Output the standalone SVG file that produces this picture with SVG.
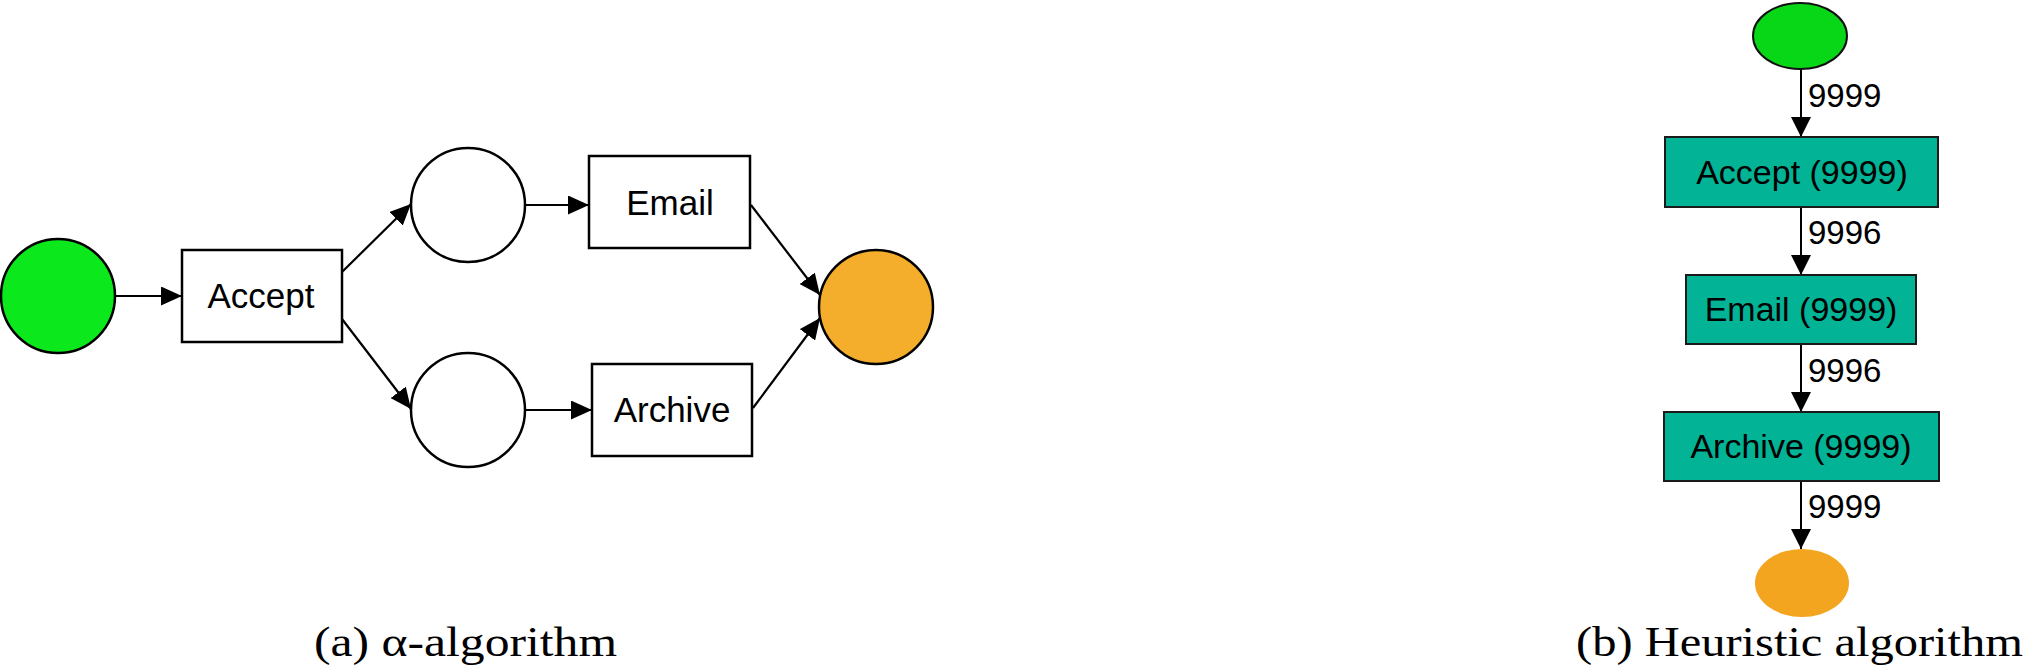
<svg xmlns="http://www.w3.org/2000/svg" width="2028" height="671" viewBox="0 0 2028 671">
<style>
.lbl{font-family:"Liberation Sans",Arial,sans-serif;font-size:35px;fill:#000;text-anchor:middle}
.rlbl{font-family:"Liberation Sans",Arial,sans-serif;font-size:34px;fill:#000;text-anchor:middle}
.elbl{font-family:"Liberation Sans",Arial,sans-serif;font-size:33px;fill:#000;text-anchor:start}
.cap{font-family:"Liberation Serif","Times New Roman",serif;font-size:42px;fill:#000}
.box{fill:#fff;stroke:#000;stroke-width:2.5}
.place{fill:#fff;stroke:#000;stroke-width:2.5}
.tbox{fill:#02B396;stroke:#1a1a1a;stroke-width:2}
.edge{stroke:#000;stroke-width:2.2;fill:none;marker-end:url(#arr)}
.edge2{stroke:#000;stroke-width:2;fill:none;marker-end:url(#arr2)}
</style>
<defs>
<marker id="arr" markerUnits="userSpaceOnUse" markerWidth="21" markerHeight="19" refX="21" refY="9.5" orient="auto"><path d="M0,0 L21,9.5 L0,19 z" fill="#000"/></marker>
<marker id="arr2" markerUnits="userSpaceOnUse" markerWidth="20" markerHeight="20" refX="20" refY="10" orient="auto"><path d="M0,0 L20,10 L0,20 z" fill="#000"/></marker>
</defs>
<rect width="2028" height="671" fill="#fff"/>

<g id="connectors">
<line class="edge" x1="115" y1="296" x2="182" y2="296"/>
<line class="edge" x1="342" y1="272" x2="411" y2="204"/>
<line class="edge" x1="342" y1="319" x2="411" y2="409"/>
<line class="edge" x1="525" y1="205" x2="589" y2="205"/>
<line class="edge" x1="525" y1="410" x2="592" y2="410"/>
<line class="edge" x1="751" y1="205" x2="820" y2="295"/>
<line class="edge" x1="753" y1="408" x2="820" y2="318"/>
<line class="edge2" x1="1801" y1="69" x2="1801" y2="137"/>
<line class="edge2" x1="1801" y1="207" x2="1801" y2="275"/>
<line class="edge2" x1="1801" y1="344" x2="1801" y2="412"/>
<line class="edge2" x1="1801" y1="481" x2="1801" y2="549"/>
<text class="elbl" x="1808" y="107">9999</text>
<text class="elbl" x="1808" y="244">9996</text>
<text class="elbl" x="1808" y="382">9996</text>
<text class="elbl" x="1808" y="518">9999</text>
</g>

<g id="a-start"><circle cx="58" cy="296" r="57" fill="#0BE81C" stroke="#000" stroke-width="2.5"/></g>
<g id="a-accept"><rect class="box" x="182" y="250" width="160" height="92"/><text class="lbl" x="261" y="308">Accept</text></g>
<g id="a-p1"><circle class="place" cx="468" cy="205" r="57"/></g>
<g id="a-p2"><circle class="place" cx="468" cy="410" r="57"/></g>
<g id="a-email"><rect class="box" x="589" y="156" width="161" height="92"/><text class="lbl" x="670" y="215">Email</text></g>
<g id="a-archive"><rect class="box" x="592" y="364" width="160" height="92"/><text class="lbl" x="672" y="422">Archive</text></g>
<g id="a-end"><circle cx="876" cy="307" r="57" fill="#F5AD2C" stroke="#000" stroke-width="2.5"/></g>

<g id="b-start"><ellipse cx="1800" cy="36" rx="47" ry="33" fill="#08D718" stroke="#111" stroke-width="2"/></g>
<g id="b-accept"><rect class="tbox" x="1665" y="137" width="273" height="70"/><text class="rlbl" x="1802" y="184">Accept (9999)</text></g>
<g id="b-email"><rect class="tbox" x="1686" y="275" width="230" height="69"/><text class="rlbl" x="1801" y="321">Email (9999)</text></g>
<g id="b-archive"><rect class="tbox" x="1664" y="412" width="275" height="69"/><text class="rlbl" x="1801" y="458">Archive (9999)</text></g>
<g id="b-end"><ellipse cx="1802" cy="583" rx="47" ry="34" fill="#F4A520"/></g>

<text class="cap" x="314" y="656" textLength="303" lengthAdjust="spacingAndGlyphs">(a) α-algorithm</text>
<text class="cap" x="1576" y="656" textLength="447" lengthAdjust="spacingAndGlyphs">(b) Heuristic algorithm</text>
</svg>
